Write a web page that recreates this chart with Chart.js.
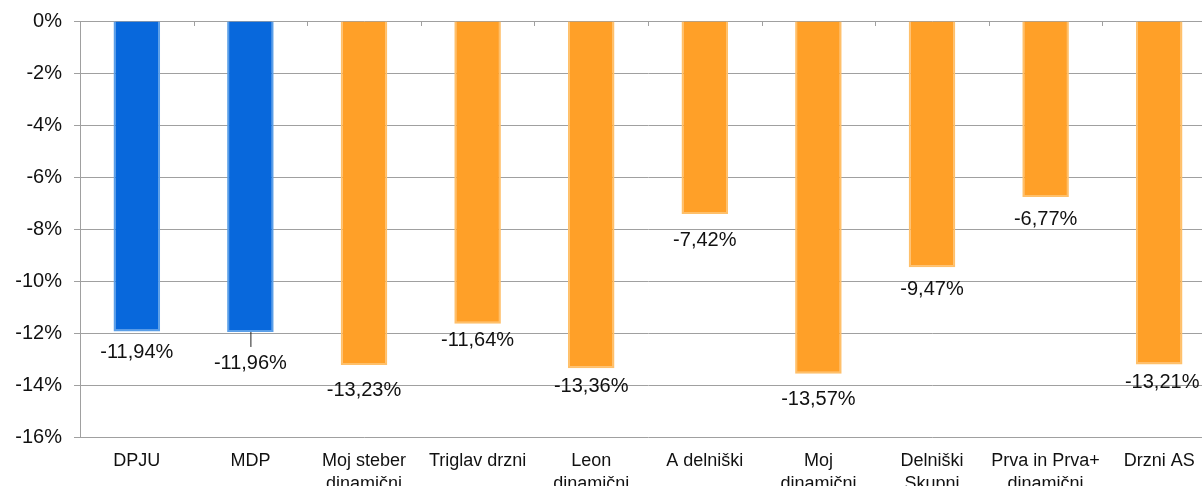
<!DOCTYPE html>
<html>
<head>
<meta charset="utf-8">
<script src="https://cdn.jsdelivr.net/npm/chart.js@4"></script>
<style>
  html, body { margin: 0; padding: 0; background: #fff; overflow: hidden; }
  #wrap { width: 1216px; height: 486px; position: relative; }
</style>
</head>
<body>
<div id="wrap"><canvas id="chart"></canvas></div>
<script>
const labels = [
  'DPJU', 'MDP', ['Moj steber', 'dinamični'], 'Triglav drzni', ['Leon', 'dinamični'],
  'A delniški', ['Moj', 'dinamični'], ['Delniški', 'Skupni'], ['Prva in Prva+', 'dinamični'], 'Drzni AS'
];
const values = [-11.94, -11.96, -13.23, -11.64, -13.36, -7.42, -13.57, -9.47, -6.77, -13.21];
const groups = ['blue', 'blue', 'orange', 'orange', 'orange', 'orange', 'orange', 'orange', 'orange', 'orange'];

// distance of each value label below its bar end, and leader line flags
const labelOffsets = [21, 32, 26, 17, 18, 27, 26, 22, 22, 18];
const leaders = [false, true, false, false, false, false, false, false, false, false];

const fills = { blue: '#0868dc', orange: '#ffa028' };
const edges = { blue: '#5b9fe8', orange: '#ffc06a' };

const fmt = v => v.toFixed(2).replace('.', ',') + '%';

const valueLabels = {
  id: 'valueLabels',
  afterDatasetsDraw(chart) {
    const ctx = chart.ctx;
    const meta = chart.getDatasetMeta(0);
    ctx.save();
    ctx.font = '20px "Liberation Sans", Arial, sans-serif';
    ctx.fillStyle = '#111';
    ctx.textAlign = 'center';
    ctx.textBaseline = 'middle';
    meta.data.forEach((bar, i) => {
      if (leaders[i]) {
        ctx.strokeStyle = '#222';
        ctx.lineWidth = 1;
        ctx.beginPath();
        ctx.moveTo(bar.x + 0.5, bar.y);
        ctx.lineTo(bar.x + 0.5, bar.y + 15);
        ctx.stroke();
      }
      ctx.fillText(fmt(values[i]), bar.x + (i === 9 ? 3 : 0), bar.y + labelOffsets[i]);
    });
    ctx.restore();
  }
};

// small category tick marks on the 0% line
const zeroTicks = {
  id: 'zeroTicks',
  afterDraw(chart) {
    const ctx = chart.ctx;
    const x = chart.scales.x;
    const y0 = chart.scales.y.getPixelForValue(0);
    ctx.save();
    ctx.strokeStyle = '#a0a0a0';
    ctx.lineWidth = 1;
    for (let i = 1; i < labels.length; i++) {
      const px = Math.round((x.getPixelForValue(i - 1) + x.getPixelForValue(i)) / 2) + 0.5;
      ctx.beginPath();
      ctx.moveTo(px, y0);
      ctx.lineTo(px, y0 + 5);
      ctx.stroke();
    }
    ctx.restore();
  }
};

new Chart(document.getElementById('chart'), {
  type: 'bar',
  data: {
    labels: labels,
    datasets: [{
      data: values,
      backgroundColor: groups.map(g => fills[g]),
      borderColor: groups.map(g => edges[g]),
      borderWidth: { left: 2, right: 2, top: 0, bottom: 2 },
      borderSkipped: false,
      categoryPercentage: 1,
      barPercentage: 0.41
    }]
  },
  plugins: [valueLabels, zeroTicks],
  options: {
    responsive: true,
    maintainAspectRatio: false,
    animation: false,
    layout: { padding: { top: 21, right: 0, left: 0, bottom: 0 } },
    plugins: { legend: { display: false }, tooltip: { enabled: false } },
    scales: {
      x: {
        grid: { display: false, drawTicks: false },
        border: { display: false },
        ticks: {
          color: '#111',
          padding: 13,
          maxRotation: 0,
          autoSkip: false,
          font: { family: '"Liberation Sans", Arial, sans-serif', size: 18, lineHeight: 1.25 }
        },
        afterFit(scale) { scale.height = 49; }
      },
      y: {
        min: -16,
        max: 0,
        ticks: {
          stepSize: 2,
          color: '#111',
          padding: 12,
          font: { family: '"Liberation Sans", Arial, sans-serif', size: 20 },
          callback: v => v + '%'
        },
        grid: { color: '#a0a0a0', tickLength: 6, drawOnChartArea: true },
        border: { color: '#a0a0a0' },
        afterFit(scale) {
          scale.width = 80;
          scale.paddingTop = 0;
          scale.paddingBottom = 0;
        }
      }
    }
  }
});
</script>
</body>
</html>
